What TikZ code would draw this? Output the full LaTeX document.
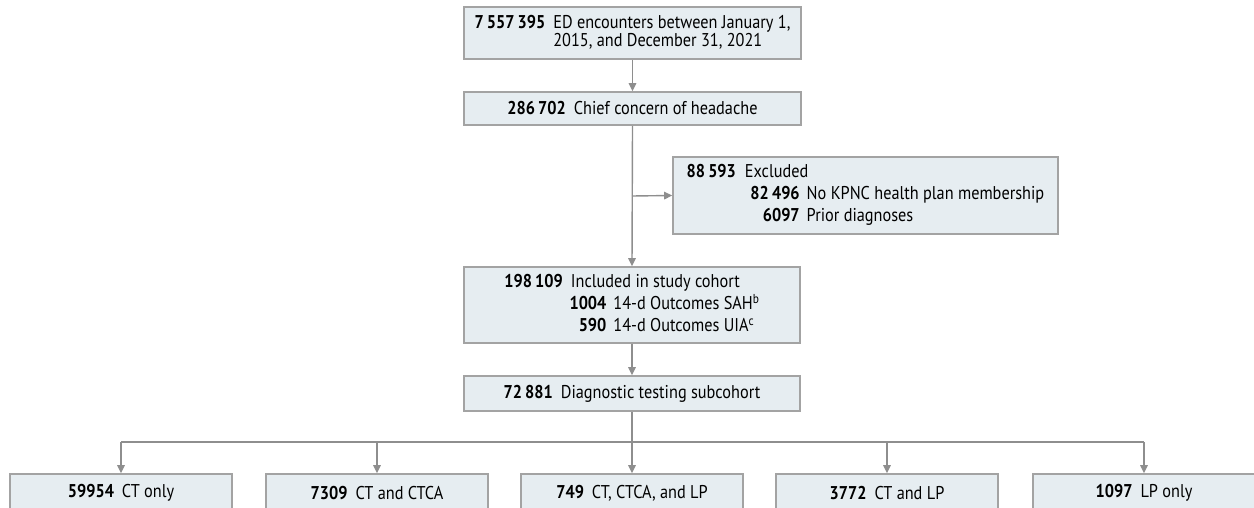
\documentclass[tikz,border=0pt]{standalone}
\usepackage{fontspec}
\setmainfont{PT Sans}[FakeStretch=0.88]
\usetikzlibrary{arrows.meta}
\definecolor{boxfill}{HTML}{E6EDF1}
\definecolor{boxline}{HTML}{A3A3A3}
\definecolor{arrline}{HTML}{8E8E8E}
\newcommand{\cnt}[1]{\textbf{#1}}

\begin{document}
\begin{tikzpicture}[x=1pt, y=-1pt,
  flowbox/.style={draw=boxline, fill=boxfill, line width=1.6pt, inner sep=0pt,
    align=center, font=\fontsize{18.5}{22}\selectfont},
  flowarrow/.style={draw=arrline, line width=1.4pt, -{Triangle[length=8pt,width=7.5pt]}},
  flowline/.style={draw=arrline, line width=1.4pt}]
  \clip (0,0) rectangle (1254,508);

  % main column
  \node[flowbox, minimum width=337pt, minimum height=52pt] (enc) at (632.5,33)
    {\begin{tabular}{@{}r@{\hspace{8pt}}l@{}}\cnt{7\,557\,395} & ED encounters between January 1,\\[-4pt]
     & 2015, and December 31, 2021\end{tabular}};
  \node[flowbox, minimum width=337pt, minimum height=33pt] (head) at (632.5,108.5)
    {\cnt{286\,702}\hspace{8pt}Chief concern of headache};
  \node[flowbox, minimum width=385pt, minimum height=77pt] (excl) at (865.5,195.5)
    {\begin{tabular}{@{}l@{}}
     \cnt{88\,593}\hspace{9pt}Excluded\\
     \makebox[113pt][r]{\cnt{82\,496}}\hspace{7pt}No KPNC health plan membership\\
     \makebox[113pt][r]{\cnt{6097}}\hspace{7pt}Prior diagnoses
     \end{tabular}};
  \node[flowbox, minimum width=336pt, minimum height=76pt] (cohort) at (632,305)
    {\begin{tabular}{@{}l@{}}
     \cnt{198\,109}\hspace{8pt}Included in study cohort\\
     \makebox[102pt][r]{\cnt{1004}}\hspace{7pt}14-d Outcomes SAH\textsuperscript{b}\\
     \makebox[102pt][r]{\cnt{590}}\hspace{7pt}14-d Outcomes UIA\textsuperscript{c}
     \end{tabular}};
  \node[flowbox, minimum width=336pt, minimum height=35pt] (sub) at (632,393.5)
    {\cnt{72\,881}\hspace{8pt}Diagnostic testing subcohort};

  % testing groups
  \node[flowbox, minimum width=222pt, minimum height=38pt] (ctonly) at (121,493) {\cnt{59954}\hspace{8pt}CT only};
  \node[flowbox, minimum width=222pt, minimum height=38pt] (ctca) at (377,493) {\cnt{7309}\hspace{8pt}CT and CTCA};
  \node[flowbox, minimum width=222pt, minimum height=38pt] (all) at (632,493) {\cnt{749}\hspace{8pt}CT, CTCA, and LP};
  \node[flowbox, minimum width=222pt, minimum height=38pt] (ctlp) at (887,493) {\cnt{3772}\hspace{8pt}CT and LP};
  \node[flowbox, minimum width=222pt, minimum height=38pt] (lponly) at (1144,493) {\cnt{1097}\hspace{8pt}LP only};

  \coordinate (split) at (632,196);
  \coordinate (bus) at (632,442);

  \draw[flowarrow] (enc.south) -- (head.north);
  \draw[flowarrow] (head.south) -- (cohort.north);
  \draw[flowarrow] (split) -- (excl.west);
  \draw[flowarrow] (cohort.south) -- (sub.north);
  \draw[flowarrow] (sub.south) -- (all.north);
  \draw[flowline] (ctonly.north |- bus) -- (lponly.north |- bus);
  \foreach \grp in {ctonly,ctca,ctlp,lponly}
    \draw[flowarrow] (\grp.north |- bus) -- (\grp.north);
\end{tikzpicture}
\end{document}
